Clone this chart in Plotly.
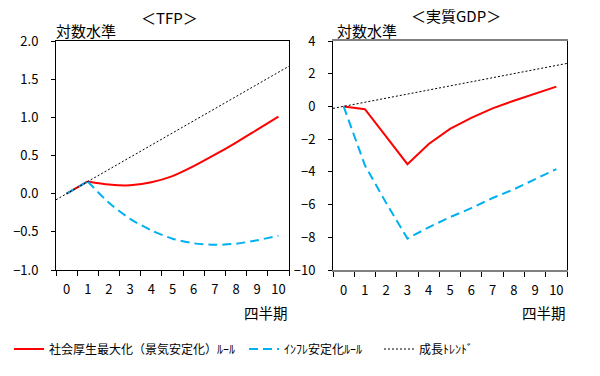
import plotly.graph_objects as go

quarters = list(range(11))
quarter_labels = [str(q) for q in quarters]

# TFP (log level)
tfp_welfare = [0.00, 0.16, 0.12, 0.11, 0.15, 0.23, 0.36, 0.51, 0.67, 0.84, 1.01]
tfp_inflation = [0.00, 0.16, -0.12, -0.33, -0.48, -0.59, -0.65, -0.67, -0.655, -0.61, -0.55]
tfp_trend_x = [-0.5, 10.5]
tfp_trend = [-0.08, 1.67]

# Real GDP (log level)
gdp_welfare = [0.00, -0.17, -1.85, -3.53, -2.3, -1.37, -0.70, -0.12, 0.35, 0.78, 1.21]
gdp_inflation = [0.00, -3.6, -5.9, -8.08, -7.39, -6.77, -6.22, -5.6, -5.07, -4.45, -3.83]
gdp_trend_x = [-0.5, 10.5]
gdp_trend = [-0.12, 2.63]

tfp_yticks = [-1.0, -0.5, 0.0, 0.5, 1.0, 1.5, 2.0]
gdp_yticks = [-10, -8, -6, -4, -2, 0, 2, 4]

name_welfare = "社会厚生最大化（景気安定化）ﾙｰﾙ"
name_inflation = "ｲﾝﾌﾚ安定化ﾙｰﾙ"
name_trend = "成長ﾄﾚﾝﾄﾞ"

RED = "#FF0000"
BLUE = "#00B0F0"
FONT = "Noto Sans CJK JP"
SMOOTH = 0.8

fig = go.Figure()

# Left panel: TFP -- straight first quarter, smoothed afterwards
fig.add_trace(go.Scatter(x=quarters[:2], y=tfp_welfare[:2], mode="lines", name=name_welfare,
                         line=dict(color=RED, width=2), showlegend=False,
                         xaxis="x", yaxis="y"))
fig.add_trace(go.Scatter(x=quarters[1:], y=tfp_welfare[1:], mode="lines", name=name_welfare,
                         line=dict(color=RED, width=2, shape="spline", smoothing=SMOOTH),
                         xaxis="x", yaxis="y", legend="legend"))
fig.add_trace(go.Scatter(x=quarters[:2], y=tfp_inflation[:2], mode="lines", name=name_inflation,
                         line=dict(color=BLUE, width=2, dash="9px,5px"), showlegend=False,
                         xaxis="x", yaxis="y"))
fig.add_trace(go.Scatter(x=quarters[1:], y=tfp_inflation[1:], mode="lines", name=name_inflation,
                         line=dict(color=BLUE, width=2, dash="9px,5px", shape="spline", smoothing=SMOOTH),
                         xaxis="x", yaxis="y", legend="legend2"))
fig.add_trace(go.Scatter(x=tfp_trend_x, y=tfp_trend, mode="lines", name=name_trend,
                         line=dict(color="black", width=1, dash="2px,2px"),
                         xaxis="x", yaxis="y", legend="legend3"))

# Right panel: GDP
fig.add_trace(go.Scatter(x=quarters, y=gdp_welfare, mode="lines", name=name_welfare,
                         line=dict(color=RED, width=2), showlegend=False,
                         xaxis="x2", yaxis="y2"))
fig.add_trace(go.Scatter(x=quarters, y=gdp_inflation, mode="lines", name=name_inflation,
                         line=dict(color=BLUE, width=2, dash="9px,5px"), showlegend=False,
                         xaxis="x2", yaxis="y2"))
fig.add_trace(go.Scatter(x=gdp_trend_x, y=gdp_trend, mode="lines", name=name_trend,
                         line=dict(color="black", width=1, dash="2px,2px"), showlegend=False,
                         xaxis="x2", yaxis="y2"))

W, H = 600, 376
ydom = [1 - 270 / H, 1 - 41 / H]

boundaries = [q - 0.5 for q in quarters] + [quarters[-1] + 0.5]

def xaxis_style(linecolor, linewidth):
    return dict(range=[-0.5, 10.5], tickvals=quarters, ticktext=quarter_labels,
                ticks="", showline=True, linecolor=linecolor, linewidth=linewidth, mirror=True,
                showgrid=False, zeroline=False,
                tickfont=dict(family=FONT, size=13, color="black"),
                minor=dict(tickvals=boundaries, ticks="outside", ticklen=5,
                           tickcolor="black", showgrid=False),
                ticklabelstandoff=7)

ycommon = dict(ticks="outside", ticklen=4, tickcolor="black", showline=True,
               linecolor="black", linewidth=1, mirror=True, showgrid=False,
               zeroline=False, tickfont=dict(family=FONT, size=13, color="black"))

leg_common = dict(orientation="h", y=1 - 349 / H, yanchor="middle", xanchor="left",
                  font=dict(family=FONT, size=12, color="black"),
                  bgcolor="rgba(0,0,0,0)", itemwidth=30)

fig.update_layout(
    width=W, height=H,
    margin=dict(l=0, r=0, t=0, b=0, autoexpand=False),
    paper_bgcolor="white", plot_bgcolor="white",
    font=dict(family=FONT, color="black"),
    xaxis=dict(domain=[56 / W, 289 / W], anchor="y", **xaxis_style("black", 1)),
    yaxis=dict(domain=ydom, anchor="x", range=[-1.0, 2.0], tickvals=tfp_yticks,
               tickformat=".1f", ticklabelstandoff=10, **ycommon),
    xaxis2=dict(domain=[333 / W, 567 / W], anchor="y2", **xaxis_style("#808080", 2)),
    yaxis2=dict(domain=ydom, anchor="x2", range=[-10, 4], tickvals=gdp_yticks,
                ticklabelstandoff=10, **ycommon),
    legend=dict(x=9 / W, **leg_common),
    legend2=dict(x=244 / W, **leg_common),
    legend3=dict(x=379 / W, **leg_common),
    showlegend=True,
)

annots = [
    dict(text="＜TFP＞", x=169 / W, y=1 - 17 / H),
    dict(text="＜実質GDP＞", x=456 / W, y=1 - 16 / H),
]
for a in annots:
    fig.add_annotation(text=a["text"], x=a["x"], y=a["y"], xref="paper", yref="paper",
                       showarrow=False, xanchor="center", yanchor="middle",
                       font=dict(family=FONT, size=15, color="black"))

for xpos in [54 / W, 335 / W]:
    fig.add_annotation(text="対数水準", x=xpos, y=1 - 31 / H, xref="paper", yref="paper",
                       showarrow=False, xanchor="left", yanchor="middle",
                       font=dict(family=FONT, size=15, color="black"))
for xpos in [290 / W, 568 / W]:
    fig.add_annotation(text="四半期", x=xpos, y=1 - 312 / H, xref="paper", yref="paper",
                       showarrow=False, xanchor="right", yanchor="middle",
                       font=dict(family=FONT, size=14.5, color="black"))

fig.write_html("out.html")
